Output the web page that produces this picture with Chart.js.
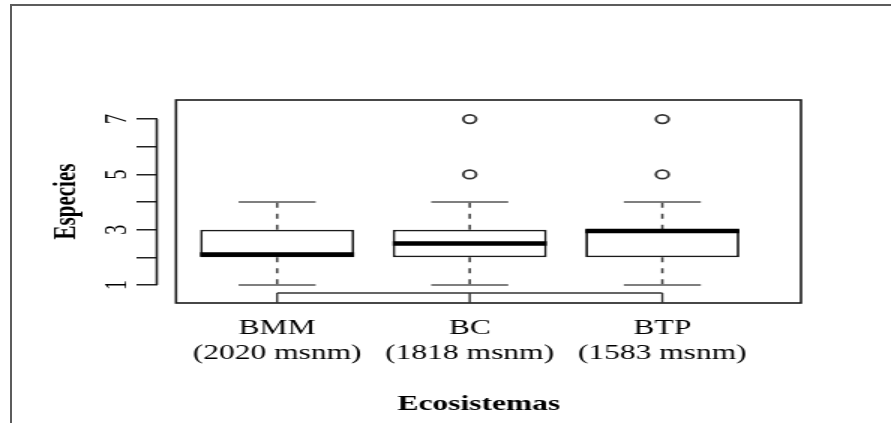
<!DOCTYPE html>
<html>
<head>
<meta charset="utf-8">
<script src="https://cdn.jsdelivr.net/npm/chart.js@4.4.1/dist/chart.umd.min.js"></script>
<style>
  html, body { margin: 0; padding: 0; background: #fff; overflow: hidden; }
  #frame { position: absolute; left: 10px; top: 4px; width: 1000px; height: 1000px;
           border-left: 2px solid #5c5c5c; border-top: 2px solid #5c5c5c; }
  /* the source figure is stretched sideways, so the canvas is too */
  #wrap { position: absolute; left: 0; top: 0; width: 594px; height: 423px;
          transform: scaleX(1.5); transform-origin: 0 0; }
</style>
</head>
<body>
<div id="frame"></div>
<div id="wrap"><canvas id="boxChart" width="594" height="423"></canvas></div>
<script>
// box plot statistics per ecosystem
var groups = ['BMM', 'BC', 'BTP'];
var altitudes = ['(2020 msnm)', '(1818 msnm)', '(1583 msnm)'];
var lowerWhisker = [1, 1, 1];
var q1 = [2, 2, 2];
var medians = [2.1, 2.5, 2.95];
var q3 = [3, 3, 3];
var upperWhisker = [4, 4, 4];
var outliers = [[], [5, 7], [5, 7]];

var yTicks = [1, 2, 3, 4, 5, 6, 7];
var yLabels = ['1', '', '3', '', '5', '', '7'];

var boxHalf = 0.4;   // boxwex 0.8
var capHalf = 0.2;
var xAxisLevel = 0.71;
var boxLeft = 0.475;

var serif = 'Liberation Serif';

// build line segments separated by null gaps
function segments(fn) {
    var pts = [];
    groups.forEach(function(g, i) {
        fn(i, i + 1).forEach(function(s) {
            pts.push(s[0], s[1], { x: i + 1, y: null });
        });
    });
    return pts;
}

var boxData = groups.map(function(g, i) { return { x: i + 1, y: [q1[i], q3[i]] }; });
var medianData = segments(function(i, c) {
    return [[{ x: c - boxHalf, y: medians[i] }, { x: c + boxHalf, y: medians[i] }]];
});
var whiskerData = segments(function(i, c) {
    return [[{ x: c, y: q3[i] }, { x: c, y: upperWhisker[i] }],
            [{ x: c, y: q1[i] }, { x: c, y: lowerWhisker[i] }]];
});
var capData = segments(function(i, c) {
    return [[{ x: c - capHalf, y: upperWhisker[i] }, { x: c + capHalf, y: upperWhisker[i] }],
            [{ x: c - capHalf, y: lowerWhisker[i] }, { x: c + capHalf, y: lowerWhisker[i] }]];
});
var outlierData = [];
outliers.forEach(function(list, i) {
    list.forEach(function(v) { outlierData.push({ x: i + 1, y: v }); });
});

// R style extras: detached y axis line, plot frame and the inner x axis
var rAxes = {
    id: 'rAxes',
    afterDatasetsDraw: function(chart) {
        var ctx = chart.ctx, a = chart.chartArea, x = chart.scales.x, y = chart.scales.y;
        ctx.save();
        ctx.strokeStyle = '#1a1a1a';
        ctx.lineWidth = 1.6;
        var bx = x.getPixelForValue(boxLeft);
        ctx.strokeRect(bx, a.top, a.right - bx, a.bottom - a.top);

        ctx.beginPath();
        ctx.moveTo(a.left, y.getPixelForValue(yTicks[0]));
        ctx.lineTo(a.left, y.getPixelForValue(yTicks[yTicks.length - 1]));
        ctx.stroke();

        var ay = y.getPixelForValue(xAxisLevel);
        ctx.lineWidth = 1.4;
        ctx.strokeStyle = '#333';
        ctx.beginPath();
        ctx.moveTo(x.getPixelForValue(1), ay);
        ctx.lineTo(x.getPixelForValue(groups.length), ay);
        groups.forEach(function(g, i) {
            var px = x.getPixelForValue(i + 1);
            ctx.moveTo(px, ay);
            ctx.lineTo(px, a.bottom);
        });
        ctx.stroke();
        ctx.restore();
    }
};

var ctx = document.getElementById('boxChart').getContext('2d');
var chart = new Chart(ctx, {
    type: 'bar',
    data: {
        datasets: [{
            type: 'bar',
            data: boxData,
            backgroundColor: '#fff',
            borderColor: '#1a1a1a',
            borderWidth: 1.8,
            borderSkipped: false,
            barPercentage: 0.8,
            categoryPercentage: 1,
            order: 3
        }, {
            type: 'line',
            data: whiskerData,
            borderColor: '#444',
            borderWidth: 1.6,
            borderDash: [5, 6],
            pointRadius: 0,
            order: 2
        }, {
            type: 'line',
            data: capData,
            borderColor: '#555',
            borderWidth: 1.6,
            pointRadius: 0,
            order: 2
        }, {
            type: 'line',
            data: medianData,
            borderColor: '#000',
            borderWidth: 4.5,
            borderCapStyle: 'butt',
            pointRadius: 0,
            order: 1
        }, {
            type: 'line',
            data: outlierData,
            showLine: false,
            pointStyle: 'circle',
            pointRadius: 4.3,
            pointBorderWidth: 1.8,
            pointBorderColor: '#333',
            pointBackgroundColor: 'rgba(0,0,0,0)',
            order: 0
        }]
    },
    options: {
        responsive: false,
        animation: false,
        layout: { padding: { left: 0, top: 100, right: 60, bottom: 0 } },
        plugins: { legend: { display: false }, tooltip: { enabled: false } },
        scales: {
            x: {
                type: 'linear',
                min: 0.375,
                max: 3.72,
                offset: false,
                afterBuildTicks: function(s) {
                    s.ticks = groups.map(function(g, i) { return { value: i + 1 }; });
                },
                afterFit: function(s) { s.height = 120; },
                grid: { display: false, drawTicks: false },
                border: { display: false },
                ticks: {
                    autoSkip: false,
                    maxRotation: 0,
                    minRotation: 0,
                    padding: 12.5,
                    color: '#000',
                    font: { family: serif, size: 21, lineHeight: 1.19 },
                    callback: function(v) {
                        var i = Math.round(v) - 1;
                        return [groups[i], altitudes[i]];
                    }
                },
                title: {
                    display: true,
                    text: 'Ecosistemas',
                    color: '#000',
                    font: { family: serif, size: 21, weight: 'bold' },
                    padding: { top: 0, bottom: 5.4 }
                }
            },
            y: {
                type: 'linear',
                min: 0.35,
                max: 7.69,
                afterBuildTicks: function(s) {
                    s.ticks = yTicks.map(function(v) { return { value: v }; });
                },
                afterFit: function(s) { s.width = 104.5; },
                grid: { drawOnChartArea: false, drawTicks: true, tickLength: 13.5, color: '#222', lineWidth: 1.5 },
                border: { display: false },
                ticks: {
                    autoSkip: false,
                    padding: 7,
                    crossAlign: 'center',
                    minRotation: 90,
                    maxRotation: 90,
                    color: '#000',
                    font: { family: serif, size: 20 },
                    callback: function(v, i) { return yLabels[i]; }
                },
                title: {
                    display: true,
                    text: 'Especies',
                    color: '#000',
                    font: { family: serif, size: 21, weight: 'bold' },
                    padding: { top: 31.8, bottom: 0 }
                }
            }
        }
    },
    plugins: [rAxes]
});
</script>
</body>
</html>
